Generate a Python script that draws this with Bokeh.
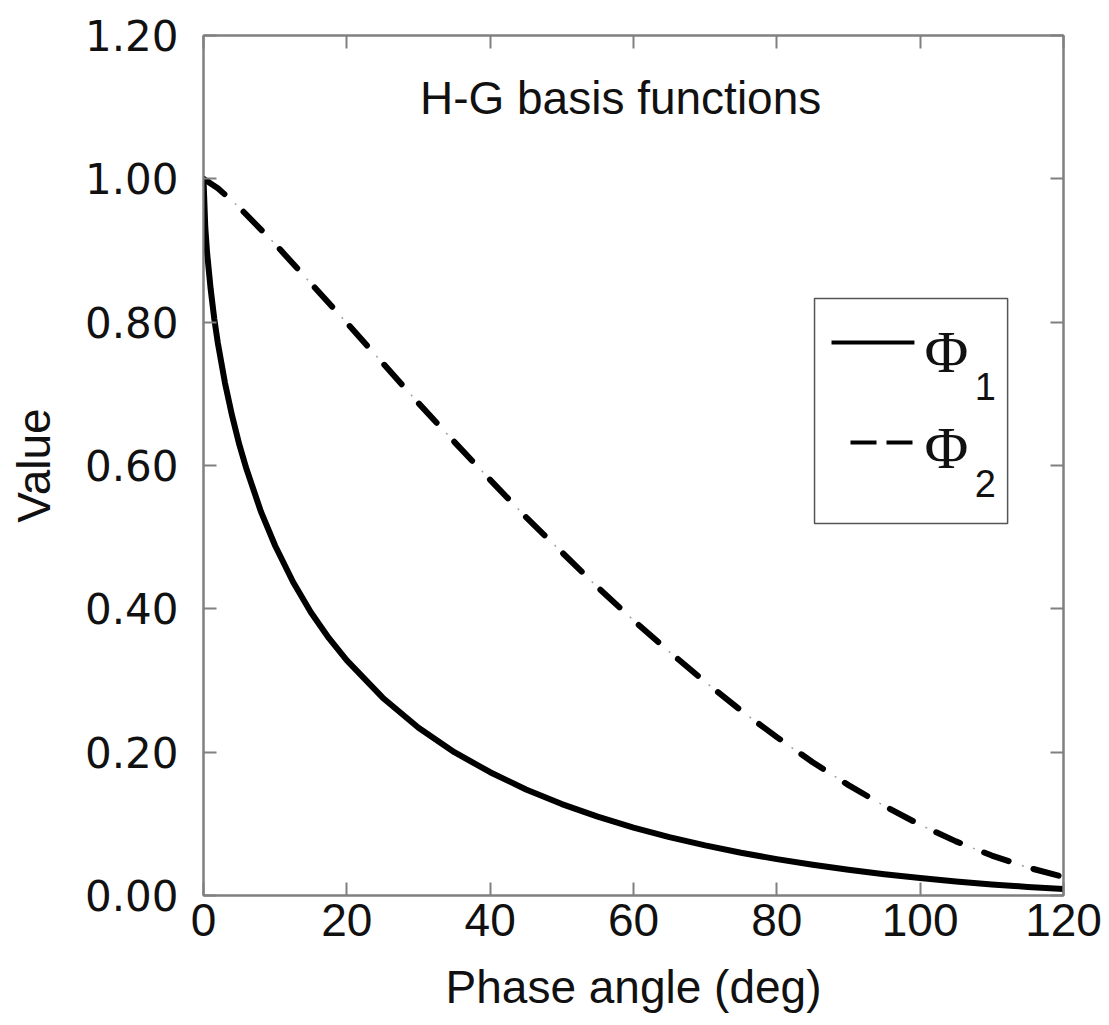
import numpy as np
from bokeh.plotting import figure
from bokeh.models import (LinearAxis, FixedTicker, PrintfTickFormatter, Label,
                          BoxAnnotation, Arrow, Range1d)
from bokeh.embed import file_html
from bokeh.resources import INLINE

# ---- data ----
phase_phi1 = [0, 0.25, 0.5, 1, 1.5, 2, 3, 4, 5, 6, 8, 10, 12.5, 15, 17.5, 20, 25, 30, 35,
              40, 45, 50, 55, 60, 65, 70, 75, 80, 85, 90, 95, 100, 105, 110, 115, 120]
phi1 = [1.0, 0.932, 0.897, 0.846, 0.805, 0.771, 0.715, 0.669, 0.629, 0.595, 0.536, 0.488,
        0.4375, 0.395, 0.359, 0.328, 0.276, 0.234, 0.200, 0.172, 0.148, 0.1276, 0.110,
        0.0948, 0.0815, 0.0699, 0.0597, 0.0507, 0.0428, 0.0358, 0.0297, 0.0243, 0.0196,
        0.0155, 0.0120, 0.0090]

phase_phi2 = [0, 2, 5, 10, 15, 20, 25, 30, 35, 40, 45, 50, 55, 60, 65, 70, 75, 80, 85, 90,
              95, 100, 105, 110, 115, 120]
phi2 = [1.0, 0.987, 0.960, 0.909, 0.854, 0.799, 0.743, 0.687, 0.633, 0.580, 0.528, 0.479,
        0.430, 0.384, 0.340, 0.298, 0.258, 0.221, 0.186, 0.154, 0.125, 0.0986, 0.0755,
        0.0557, 0.0391, 0.0259]

x_ticks = [0, 20, 40, 60, 80, 100, 120]
y_ticks = [0.0, 0.2, 0.4, 0.6, 0.8, 1.0, 1.2]

title_text = "H-G basis functions"
x_title = "Phase angle (deg)"
y_title = "Value"

AX = "#808080"

p = figure(width=1109, height=1025, output_backend="svg", toolbar_location=None,
           x_range=Range1d(0, 120), y_range=Range1d(0, 1.2),
           min_border_left=203, min_border_right=46, min_border_top=35,
           min_border_bottom=130)
p.xgrid.visible = False
p.ygrid.visible = False
p.outline_line_color = AX
p.outline_line_width = 2
p.background_fill_color = "white"
p.border_fill_color = "white"

# curves
p.line(phase_phi1, phi1, line_width=6, line_color="black", line_join="round")
p.line(phase_phi2, phi2, line_width=6, line_color="black", line_dash="26 26",
       line_cap="round", line_join="round")
p.line(phase_phi2, phi2, line_width=1.5, line_color="#a0a0a0", line_dash="2 50",
       line_dash_offset=12)

def style(ax):
    ax.major_tick_in = 13
    ax.major_tick_out = 0
    ax.minor_tick_line_color = None
    ax.axis_line_color = AX
    ax.axis_line_width = 2
    ax.major_tick_line_color = AX
    ax.major_tick_line_width = 2

# bottom axis
xa = p.xaxis[0]
xa.ticker = FixedTicker(ticks=x_ticks)
xa.axis_label = x_title
xa.axis_label_text_font = "Liberation Sans"
xa.axis_label_text_font_size = "46px"
xa.axis_label_text_font_style = "normal"
xa.axis_label_text_color = "#111111"
xa.axis_label_standoff = 22
xa.major_label_text_font = "Liberation Sans"
xa.major_label_text_font_size = "46px"
xa.major_label_text_color = "#111111"
xa.major_label_standoff = 8
style(xa)

# left axis
ya = p.yaxis[0]
ya.ticker = FixedTicker(ticks=y_ticks)
ya.formatter = PrintfTickFormatter(format="%.2f")
ya.axis_label = y_title
ya.axis_label_text_font = "Liberation Sans"
ya.axis_label_text_font_size = "46px"
ya.axis_label_text_font_style = "normal"
ya.axis_label_text_color = "#111111"
ya.axis_label_standoff = 22
ya.major_label_text_font = "DejaVu Sans"
ya.major_label_text_font_size = "42px"
ya.major_label_text_color = "#111111"
ya.major_label_standoff = 25
style(ya)

# mirrored axes (ticks only)
top = LinearAxis(ticker=FixedTicker(ticks=x_ticks),
                 major_label_overrides={t: "" for t in x_ticks})
style(top)
p.add_layout(top, "above")
right = LinearAxis(ticker=FixedTicker(ticks=y_ticks),
                   major_label_overrides={t: "" for t in y_ticks})
style(right)
p.add_layout(right, "right")

# title inside plot
p.add_layout(Label(x=58.2, y=1.113, text=title_text, text_align="center",
                   text_baseline="middle", text_font="Liberation Sans",
                   text_font_size="46px", text_color="#111111"))

# legend (drawn as annotations)
p.add_layout(BoxAnnotation(left=85.26, right=112.2, bottom=0.519, top=0.833,
                           fill_color="white", fill_alpha=1.0,
                           line_color="#555555", line_alpha=1.0, line_width=1.5))
p.add_layout(Arrow(end=None, x_start=87.63, y_start=0.7716, x_end=99.2, y_end=0.7716,
                   line_width=4, line_color="black"))
p.add_layout(Arrow(end=None, x_start=90.28, y_start=0.632, x_end=98.93, y_end=0.632,
                   line_width=4, line_color="black", line_dash="26 10"))
for yb, ys, sub in [(0.758, 0.710, "1"), (0.625, 0.575, "2")]:
    p.add_layout(Label(x=100.6, y=yb, text="\u03a6", text_align="left",
                       text_baseline="alphabetic", text_font="Liberation Serif",
                       text_font_size="60px", text_color="#111111"))
    p.add_layout(Label(x=107.6, y=ys, text=sub, text_align="left",
                       text_baseline="alphabetic", text_font="Liberation Sans",
                       text_font_size="38px", text_color="#111111"))

open("out.html", "w").write(file_html(p, INLINE))
